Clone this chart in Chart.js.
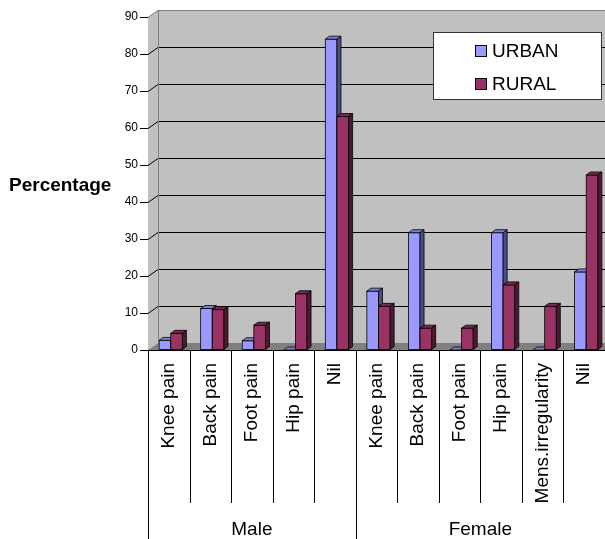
<!DOCTYPE html>
<html>
<head>
<meta charset="utf-8">
<script src="https://cdn.jsdelivr.net/npm/chart.js@4.4.1/dist/chart.umd.min.js"></script>
<style>
  body { margin: 0; background: #fff; }
</style>
</head>
<body>
<canvas id="myChart" width="605" height="539"></canvas>
<script>
// Data
const categories = ["Knee pain", "Back pain", "Foot pain", "Hip pain", "Nil",
  "Knee pain", "Back pain", "Foot pain", "Hip pain", "Mens.irregularity", "Nil"];
const groups = ["Male", "Female"];
const groupSizes = [5, 6];
const urban = [2.6, 11.2, 2.5, 0, 84, 15.9, 31.7, 0, 31.7, 0, 21.1];
const rural = [4.5, 10.9, 6.7, 15.2, 63.1, 11.8, 5.9, 5.9, 17.6, 11.8, 47.3];
const yTicks = [0, 10, 20, 30, 40, 50, 60, 70, 80, 90];

const FONT = "'Liberation Sans', Arial, sans-serif";
const DX = 10, DY = 7; // wall depth
const SHIFT = 2; // bars sit a little right of the category centre

// colours: front, top, side
const shades = [
  ["#9999ff", "#7d7dd6", "#4d4d85"],
  ["#993366", "#7a2952", "#4d1a33"],
];

// walls, floor and gridlines behind the bars
const wallPlugin = {
  id: "walls",
  beforeDatasetsDraw(chart) {
    const c = chart.ctx;
    const a = chart.chartArea;
    const y = chart.scales.y;
    const top = y.getPixelForValue(90);
    const bot = y.getPixelForValue(0);
    c.save();
    // back wall
    c.fillStyle = "#c0c0c0";
    c.fillRect(a.left + DX, top - DY, a.right - a.left - DX, bot - top);
    // side wall
    c.beginPath();
    c.moveTo(a.left, top);
    c.lineTo(a.left + DX, top - DY);
    c.lineTo(a.left + DX, bot - DY);
    c.lineTo(a.left, bot);
    c.closePath();
    c.fill();
    // floor
    c.fillStyle = "#808080";
    c.beginPath();
    c.moveTo(a.left, bot);
    c.lineTo(a.left + DX, bot - DY);
    c.lineTo(a.right, bot - DY);
    c.lineTo(a.right, bot);
    c.closePath();
    c.fill();
    // gridlines
    c.lineWidth = 1;
    yTicks.forEach(function (v) {
      if (v == 0) return;
      const py = Math.round(y.getPixelForValue(v)) + 0.5;
      c.strokeStyle = v == 90 ? "#808080" : "#000";
      c.beginPath();
      c.moveTo(a.left, py);
      c.lineTo(a.left + DX, py - DY);
      c.lineTo(a.right, py - DY);
      c.stroke();
    });
    // back wall left edge
    c.strokeStyle = "#808080";
    c.beginPath();
    c.moveTo(a.left + DX + 0.5, top - DY);
    c.lineTo(a.left + DX + 0.5, bot - DY);
    c.stroke();
    c.restore();
  },
  // the flat bars are replaced by the boxes below
  beforeDatasetDraw() {
    return false;
  },
  // draw every bar as a box, urban first so rural covers its side face
  afterDatasetsDraw(chart) {
    const c = chart.ctx;
    c.save();
    c.lineWidth = 0.8;
    c.strokeStyle = "#000";
    chart.data.datasets.forEach(function (ds, i) {
      const meta = chart.getDatasetMeta(i);
      meta.data.forEach(function (bar) {
        const l = bar.x - bar.width / 2 + SHIFT;
        const r = bar.x + bar.width / 2 + SHIFT;
        const t = bar.y;
        const b = bar.base;
        // front
        if (b - t > 0.5) {
          c.fillStyle = shades[i][0];
          c.fillRect(l, t, r - l, b - t);
          c.strokeRect(l, t, r - l, b - t);
        }
        // top face
        c.fillStyle = shades[i][1];
        c.beginPath();
        c.moveTo(l, t);
        c.lineTo(l + 4, t - 3);
        c.lineTo(r + 4, t - 3);
        c.lineTo(r, t);
        c.closePath();
        c.fill();
        c.stroke();
        // right face
        c.fillStyle = shades[i][2];
        c.beginPath();
        c.moveTo(r, t);
        c.lineTo(r + 4, t - 3);
        c.lineTo(r + 4, b - 3);
        c.lineTo(r, b);
        c.closePath();
        c.fill();
        c.stroke();
      });
    });
    c.restore();
  },
  afterDraw(chart) {
    const c = chart.ctx;
    const a = chart.chartArea;
    const H = chart.height;
    c.save();
    c.strokeStyle = "#000";
    c.lineWidth = 1;
    // base line
    c.beginPath();
    c.moveTo(a.left, a.bottom + 0.5);
    c.lineTo(a.right, a.bottom + 0.5);
    c.stroke();
    // category dividers and group dividers
    const cw = (a.right - a.left) / categories.length;
    let groupStart = 0;
    const groupEdges = [0];
    groupSizes.forEach(function (n) { groupStart += n; groupEdges.push(groupStart); });
    for (let k = 0; k <= categories.length; k++) {
      const px = Math.round(a.left + k * cw) + 0.5;
      const full = groupEdges.indexOf(k) >= 0;
      c.beginPath();
      c.moveTo(px, a.bottom);
      c.lineTo(px, full ? H : 503);
      c.stroke();
    }
    // group labels
    c.fillStyle = "#000";
    c.font = "19px " + FONT;
    c.textAlign = "center";
    c.textBaseline = "middle";
    for (let g = 0; g < groups.length; g++) {
      const x0 = a.left + groupEdges[g] * cw;
      const x1 = a.left + groupEdges[g + 1] * cw;
      c.fillText(groups[g], (x0 + x1) / 2, 530);
    }
    // axis title
    c.font = "bold 19px " + FONT;
    c.textAlign = "left";
    c.textBaseline = "alphabetic";
    c.fillText("Percentage", 9, 191);
    // legend
    c.fillStyle = "#fff";
    c.fillRect(433, 32, 169, 68);
    c.strokeStyle = "#333";
    c.strokeRect(433.5, 32.5, 168, 67);
    c.font = "19px " + FONT;
    chart.data.datasets.forEach(function (ds, k) {
      const ly = 45 + k * 33;
      c.fillStyle = ds.backgroundColor;
      c.fillRect(475, ly, 12, 12);
      c.strokeStyle = "#000";
      c.strokeRect(475.5, ly + 0.5, 11, 11);
      c.fillStyle = "#000";
      c.fillText(ds.label, 492, ly + 12);
    });
    c.restore();
  },
};

const ctx = document.getElementById("myChart").getContext("2d");

const config = {
  type: "bar",
  data: {
    labels: categories,
    datasets: [
      {
        label: "URBAN",
        data: urban,
        backgroundColor: shades[0][0],
        borderColor: "#000",
        borderWidth: 0.8,
      },
      {
        label: "RURAL",
        data: rural,
        backgroundColor: shades[1][0],
        borderColor: "#000",
        borderWidth: 0.8,
      },
    ],
  },
  options: {
    responsive: false,
    animation: false,
    devicePixelRatio: 1,
    layout: { padding: { top: 17, right: 0, left: 0, bottom: 0 } },
    categoryPercentage: 0.56,
    barPercentage: 1,
    plugins: {
      legend: { display: false },
      tooltip: { enabled: false },
    },
    scales: {
      x: {
        grid: { display: false },
        border: { display: false },
        ticks: {
          color: "#000",
          font: { family: FONT, size: 19 },
          minRotation: 90,
          maxRotation: 90,
          autoSkip: false,
          padding: 5,
        },
        afterFit(scale) {
          scale.height = 189;
          scale.paddingLeft = 0;
          scale.paddingRight = 0;
        },
      },
      y: {
        min: 0,
        max: 90,
        afterBuildTicks(scale) { scale.ticks = yTicks.map(v => ({ value: v })); },
        grid: { drawOnChartArea: false, drawTicks: true, tickLength: 8, color: "#000" },
        border: { display: true, color: "#000" },
        ticks: {
          color: "#000",
          font: { family: FONT, size: 12 },
          padding: 2,
        },
        afterFit(scale) { scale.width = 148; },
      },
    },
  },
  plugins: [wallPlugin],
};

new Chart(ctx, config);
</script>
</body>
</html>
